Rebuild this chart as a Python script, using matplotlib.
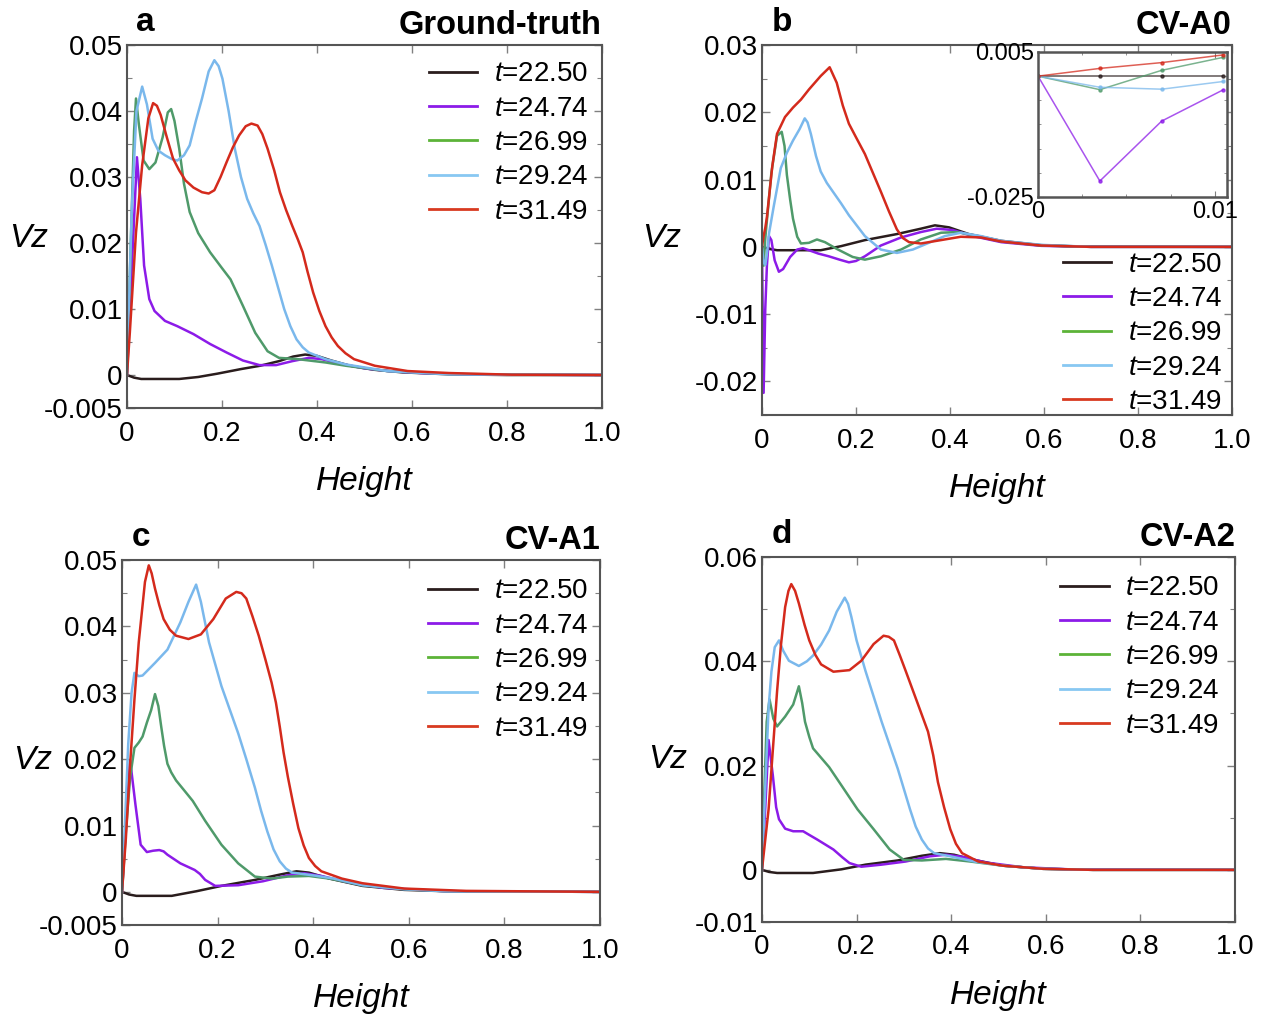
import numpy as np
import matplotlib
matplotlib.use('Agg')
import matplotlib.pyplot as plt
from matplotlib.lines import Line2D
from matplotlib.ticker import MultipleLocator

plt.rcParams['font.family'] = ['Liberation Sans', 'DejaVu Sans']
plt.rcParams['mathtext.fontset'] = 'custom'
plt.rcParams['mathtext.it'] = 'Liberation Sans:italic'
plt.rcParams['mathtext.rm'] = 'Liberation Sans'

times = ['22.50', '24.74', '26.99', '29.24', '31.49']
line_colors = ['#2a1d1d', '#8c1be8', '#4f9a6a', '#7ab8ec', '#d42a1c']
legend_colors = ['#2a1d1d', '#8c1be8', '#5cb338', '#88c8f2', '#d83a20']
x_ticks = [0, 0.2, 0.4, 0.6, 0.8, 1.0]
x_ticklabels = ['0', '0.2', '0.4', '0.6', '0.8', '1.0']

# ---- a: Ground-truth
a_black = [(0, 0), (0.015, -0.0004), (0.03, -0.0006), (0.07, -0.0006), (0.11, -0.0006), (0.15, -0.0003),
           (0.19, 0.0002), (0.24, 0.0009), (0.28, 0.0014), (0.32, 0.0021), (0.35, 0.0028), (0.375, 0.0031),
           (0.40, 0.0029), (0.43, 0.0022), (0.47, 0.0014), (0.52, 0.0008), (0.58, 0.0004), (0.68, 0.0001),
           (0.8, 0.0), (1.0, 0.0)]
a_purple = [(0, 0), (0.01, 0.016), (0.021, 0.033), (0.028, 0.0267), (0.036, 0.0166), (0.047, 0.0115),
            (0.058, 0.0097), (0.08, 0.0082), (0.106, 0.0074), (0.14, 0.0062), (0.175, 0.0047), (0.21, 0.0034),
            (0.244, 0.0022), (0.279, 0.0015), (0.314, 0.0015), (0.348, 0.0021), (0.383, 0.0026), (0.41, 0.0024),
            (0.45, 0.0017), (0.5, 0.0010), (0.55, 0.0006), (0.62, 0.0003), (0.72, 0.0001), (1.0, 0.0)]
a_green = [(0, 0), (0.008, 0.02), (0.015, 0.037), (0.019, 0.0419), (0.025, 0.038), (0.035, 0.0325),
           (0.047, 0.0312), (0.06, 0.0322), (0.075, 0.036), (0.086, 0.0398), (0.093, 0.0403), (0.1, 0.0385),
           (0.11, 0.0343), (0.12, 0.029), (0.132, 0.0247), (0.15, 0.0215), (0.175, 0.0186), (0.2, 0.0162),
           (0.218, 0.0145), (0.244, 0.0105), (0.27, 0.0064), (0.296, 0.0036), (0.32, 0.0026), (0.36, 0.0024),
           (0.418, 0.0019), (0.461, 0.0014), (0.548, 0.0006), (0.68, 0.00015), (1.0, 0.0)]
a_blue = [(0, 0), (0.01, 0.025), (0.02, 0.04), (0.032, 0.0437), (0.042, 0.041), (0.054, 0.0358),
          (0.066, 0.034), (0.08, 0.0333), (0.095, 0.0327), (0.106, 0.0325), (0.12, 0.0333), (0.132, 0.0348),
          (0.145, 0.0385), (0.158, 0.0419), (0.172, 0.046), (0.184, 0.0477), (0.193, 0.0468), (0.201, 0.0449),
          (0.214, 0.04), (0.227, 0.0343), (0.24, 0.0300), (0.253, 0.0267), (0.266, 0.0245), (0.279, 0.0226),
          (0.292, 0.0197), (0.305, 0.0166), (0.318, 0.0133), (0.331, 0.0100), (0.344, 0.0074),
          (0.357, 0.0054), (0.37, 0.0042), (0.383, 0.0034), (0.418, 0.0024),
          (0.461, 0.0016), (0.548, 0.0006), (0.68, 0.0001), (1.0, 0.0)]
a_red = [(0, 0), (0.006, 0.0064), (0.019, 0.0216), (0.032, 0.0318), (0.045, 0.0389), (0.055, 0.0412),
         (0.063, 0.0408), (0.071, 0.0394), (0.084, 0.036), (0.097, 0.0328), (0.11, 0.031), (0.123, 0.0295),
         (0.14, 0.0284), (0.158, 0.0277), (0.172, 0.0275), (0.184, 0.028), (0.197, 0.030), (0.210, 0.0323),
         (0.223, 0.0345), (0.236, 0.0363), (0.25, 0.0377), (0.262, 0.0381), (0.275, 0.0378), (0.285, 0.0365),
         (0.296, 0.0343), (0.31, 0.031), (0.322, 0.0277), (0.335, 0.0250), (0.348, 0.0226), (0.36, 0.0205),
         (0.370, 0.0186), (0.38, 0.0157), (0.392, 0.0125), (0.405, 0.0097), (0.418, 0.0074), (0.431, 0.0057),
         (0.444, 0.0044), (0.46, 0.0033), (0.478, 0.0024), (0.522, 0.0014), (0.591, 0.0006), (0.678, 0.0003),
         (0.81, 0.00005), (1.0, 0.0)]

# ---- b: CV-A0 (first four points are the ones shown in the inset)
inset_x = [0, 0.0035, 0.007, 0.0105]
inset_black = [0, 0, 0, 0]
inset_purple = [0, -0.0217, -0.0093, -0.0028]
inset_green = [0, -0.0028, 0.0012, 0.0039]
inset_blue = [0, -0.0023, -0.0027, -0.0011]
inset_red = [0, 0.0016, 0.0028, 0.0044]

b_black = [(0, 0), (0.015, -0.0003), (0.032, -0.0005), (0.08, -0.0005), (0.125, -0.0005), (0.168, 0.0001),
           (0.219, 0.001), (0.287, 0.0019), (0.338, 0.0027), (0.368, 0.0032), (0.398, 0.0029), (0.44, 0.0019),
           (0.509, 0.0009), (0.594, 0.00025), (0.679, 0.00005), (1.0, 0.0)]
b_purple = [(0, 0), (0.0035, -0.0217), (0.007, -0.0093), (0.0105, -0.0028), (0.015, 0.0016), (0.02, 0.001),
            (0.027, -0.002), (0.036, -0.0037), (0.045, -0.0033), (0.06, -0.0015), (0.075, -0.0004),
            (0.087, -0.0002), (0.1, -0.0005), (0.12, -0.001), (0.142, -0.0014), (0.165, -0.0019),
            (0.185, -0.0023), (0.2, -0.0021), (0.219, -0.0014), (0.253, 0.0002), (0.296, 0.0014),
            (0.338, 0.0022), (0.372, 0.0027), (0.406, 0.0025), (0.449, 0.0016), (0.509, 0.0007),
            (0.594, 0.00015), (0.7, 0.0), (1.0, 0.0)]
b_green = [(0, 0), (0.0035, -0.0028), (0.007, 0.0012), (0.0105, 0.0039), (0.02, 0.011), (0.032, 0.0165),
           (0.042, 0.0171), (0.048, 0.015), (0.053, 0.0107), (0.06, 0.007), (0.066, 0.0042), (0.075, 0.0015),
           (0.083, 0.0005), (0.1, 0.0006), (0.117, 0.0011), (0.134, 0.0007), (0.159, -0.0003), (0.193, -0.0015),
           (0.219, -0.0019), (0.253, -0.0014), (0.296, -0.0004), (0.338, 0.0011), (0.381, 0.0021),
           (0.415, 0.0022), (0.457, 0.0016), (0.509, 0.0008), (0.594, 0.0002), (0.7, 0.0), (1.0, 0.0)]
b_blue = [(0, 0), (0.0035, -0.0023), (0.007, -0.0027), (0.0105, -0.0011), (0.015, 0.002), (0.025, 0.006),
          (0.04, 0.0117), (0.053, 0.014), (0.066, 0.0158), (0.08, 0.0175), (0.091, 0.0191), (0.097, 0.0185),
          (0.104, 0.0168), (0.115, 0.0135), (0.125, 0.0112), (0.138, 0.0095), (0.151, 0.0082), (0.168, 0.0065),
          (0.185, 0.0047), (0.219, 0.0016), (0.253, -0.0004), (0.287, -0.0009), (0.321, -0.0004),
          (0.355, 0.0006), (0.389, 0.0016), (0.423, 0.0021), (0.466, 0.0016), (0.509, 0.0009),
          (0.594, 0.0003), (0.7, 0.0), (1.0, 0.0)]
b_red = [(0, 0), (0.0035, 0.0016), (0.007, 0.0028), (0.0105, 0.0044), (0.014, 0.0067), (0.022, 0.012),
         (0.032, 0.0168), (0.049, 0.0193), (0.066, 0.0207), (0.083, 0.0219), (0.1, 0.0234), (0.125, 0.0254),
         (0.144, 0.0267), (0.159, 0.0244), (0.172, 0.021), (0.185, 0.0183), (0.2, 0.0163), (0.219, 0.0138),
         (0.236, 0.011), (0.253, 0.0082), (0.27, 0.0053), (0.287, 0.0026), (0.3, 0.0013), (0.313, 0.0007),
         (0.338, 0.0005), (0.372, 0.0009), (0.423, 0.0015), (0.466, 0.0014), (0.509, 0.0008),
         (0.594, 0.0002), (0.7, 0.0), (1.0, 0.0)]

# ---- c: CV-A1
c_black = [(0, 0), (0.015, -0.0004), (0.03, -0.0006), (0.104, -0.0006), (0.156, 0.0001), (0.208, 0.0009),
           (0.278, 0.0018), (0.33, 0.0026), (0.365, 0.0031), (0.391, 0.0029), (0.434, 0.002), (0.503, 0.0009),
           (0.59, 0.0003), (0.677, 0.0001), (1.0, 0.0)]
c_purple = [(0, 0), (0.008, 0.01), (0.017, 0.0198), (0.028, 0.0132), (0.039, 0.0071), (0.052, 0.006),
            (0.065, 0.0062), (0.078, 0.0063), (0.087, 0.0061), (0.095, 0.0056), (0.122, 0.0043),
            (0.152, 0.0033), (0.163, 0.0027), (0.174, 0.0018), (0.195, 0.0009), (0.243, 0.001),
            (0.295, 0.0016), (0.347, 0.0025), (0.382, 0.0028), (0.417, 0.0024), (0.469, 0.0015),
            (0.547, 0.0006), (0.677, 0.0001), (1.0, 0.0)]
c_green = [(0, 0), (0.008, 0.009), (0.017, 0.0173), (0.026, 0.0217), (0.035, 0.0225), (0.043, 0.0234),
           (0.052, 0.0255), (0.061, 0.0274), (0.069, 0.0298), (0.076, 0.028), (0.082, 0.0249), (0.088, 0.022),
           (0.095, 0.0193), (0.103, 0.018), (0.113, 0.0168), (0.13, 0.0153), (0.148, 0.0137), (0.174, 0.0107),
           (0.208, 0.0071), (0.243, 0.0043), (0.278, 0.0023), (0.313, 0.002), (0.347, 0.0023), (0.391, 0.0024),
           (0.434, 0.002), (0.503, 0.001), (0.59, 0.0004), (0.677, 0.0001), (1.0, 0.0)]
c_blue = [(0, 0), (0.006, 0.01), (0.013, 0.0223), (0.02, 0.03), (0.026, 0.033), (0.035, 0.0325),
          (0.043, 0.0326), (0.069, 0.0345), (0.095, 0.0365), (0.122, 0.0406), (0.139, 0.0437), (0.155, 0.0463),
          (0.165, 0.0437), (0.182, 0.0376), (0.208, 0.031), (0.243, 0.0239), (0.26, 0.0200), (0.278, 0.0157),
          (0.291, 0.0122), (0.304, 0.0091), (0.317, 0.0064), (0.33, 0.0046), (0.343, 0.0035),
          (0.356, 0.0029), (0.399, 0.0025), (0.443, 0.002), (0.503, 0.001), (0.59, 0.0004),
          (0.677, 0.0001), (1.0, 0.0)]
c_red = [(0, 0), (0.008, 0.008), (0.017, 0.0193), (0.026, 0.029), (0.035, 0.0376), (0.048, 0.0467),
         (0.056, 0.0492), (0.062, 0.048), (0.069, 0.0457), (0.078, 0.0432), (0.087, 0.0411), (0.1, 0.0395),
         (0.113, 0.0386), (0.139, 0.0381), (0.165, 0.0388), (0.191, 0.0411), (0.217, 0.0442), (0.239, 0.0452),
         (0.25, 0.045), (0.26, 0.0442), (0.273, 0.0415), (0.286, 0.0386), (0.3, 0.035), (0.313, 0.0315),
         (0.322, 0.0285), (0.33, 0.0249), (0.338, 0.0210), (0.347, 0.0173), (0.358, 0.0133), (0.369, 0.0096),
         (0.38, 0.007), (0.391, 0.0051), (0.404, 0.0039), (0.417, 0.0031), (0.46, 0.002), (0.503, 0.0013),
         (0.59, 0.0005), (0.72, 0.00015), (1.0, 0.0)]

# ---- d: CV-A2
d_black = [(0, 0), (0.015, -0.0004), (0.032, -0.0006), (0.108, -0.0006), (0.168, 0.0001), (0.219, 0.001),
           (0.287, 0.0018), (0.338, 0.0027), (0.376, 0.0032), (0.406, 0.0029), (0.449, 0.0019), (0.509, 0.0008),
           (0.594, 0.0002), (0.7, 0.0), (1.0, 0.0)]
d_purple = [(0, 0), (0.007, 0.012), (0.014, 0.0249), (0.023, 0.0181), (0.03, 0.012), (0.036, 0.0097),
            (0.049, 0.0079), (0.066, 0.0074), (0.087, 0.0074), (0.1, 0.0067), (0.117, 0.0058), (0.151, 0.0039),
            (0.17, 0.0024), (0.185, 0.0013), (0.21, 0.0006), (0.253, 0.001), (0.304, 0.0016), (0.355, 0.0026),
            (0.389, 0.0029), (0.423, 0.0025), (0.474, 0.0014), (0.551, 0.0005), (0.65, 0.0001), (1.0, 0.0)]
d_green = [(0, 0), (0.005, 0.015), (0.01, 0.0284), (0.016, 0.0327), (0.024, 0.029), (0.032, 0.0275),
           (0.049, 0.0294), (0.066, 0.0317), (0.078, 0.0352), (0.085, 0.032), (0.091, 0.0284), (0.1, 0.0255),
           (0.108, 0.0233), (0.125, 0.0215), (0.142, 0.0197), (0.168, 0.0162), (0.202, 0.0116), (0.236, 0.0078),
           (0.27, 0.0039), (0.3, 0.0019), (0.338, 0.0018), (0.389, 0.0021), (0.44, 0.0016), (0.509, 0.0008),
           (0.594, 0.0002), (0.7, 0.0), (1.0, 0.0)]
d_blue = [(0, 0), (0.007, 0.016), (0.014, 0.031), (0.02, 0.038), (0.027, 0.0427), (0.036, 0.044),
          (0.045, 0.042), (0.057, 0.0401), (0.078, 0.0391), (0.095, 0.04), (0.108, 0.0411), (0.125, 0.0432),
          (0.142, 0.0459), (0.158, 0.0495), (0.175, 0.0522), (0.182, 0.051), (0.189, 0.0485), (0.2, 0.044),
          (0.219, 0.0381), (0.253, 0.0284), (0.287, 0.0194), (0.3, 0.0155), (0.313, 0.0116), (0.325, 0.0083),
          (0.338, 0.0058), (0.351, 0.0041), (0.364, 0.0032), (0.398, 0.0026), (0.449, 0.0016), (0.509, 0.0008),
          (0.594, 0.0002), (0.7, 0.0), (1.0, 0.0)]
d_red = [(0, 0), (0.014, 0.0116), (0.023, 0.023), (0.032, 0.0343), (0.04, 0.043), (0.049, 0.0504),
         (0.056, 0.0535), (0.062, 0.0548), (0.07, 0.0535), (0.078, 0.0511), (0.09, 0.047), (0.1, 0.044),
         (0.113, 0.0412), (0.125, 0.0394), (0.151, 0.038), (0.185, 0.0383), (0.21, 0.0401), (0.236, 0.0433),
         (0.257, 0.0449), (0.268, 0.0447), (0.279, 0.044), (0.292, 0.041), (0.304, 0.0381), (0.33, 0.0317),
         (0.351, 0.0265), (0.362, 0.022), (0.372, 0.0168), (0.385, 0.012), (0.398, 0.0078), (0.41, 0.005),
         (0.423, 0.0032), (0.457, 0.0016), (0.509, 0.0008), (0.594, 0.0002), (0.7, 0.0), (1.0, 0.0)]


def style(ax, ylim, yticks, ylabels, yminor):
    ax.set_xlim(0, 1.0)
    ax.set_ylim(*ylim)
    ax.set_xticks(x_ticks)
    ax.set_xticklabels(x_ticklabels)
    ax.set_yticks(yticks)
    ax.set_yticklabels(ylabels)
    ax.yaxis.set_minor_locator(MultipleLocator(yminor))
    ax.tick_params(which='both', direction='in', top=True, right=True, color='#808080')
    ax.tick_params(which='major', length=6, width=1.0, labelsize=20)
    ax.tick_params(axis='x', which='major', pad=9)
    ax.tick_params(axis='y', which='major', pad=3)
    ax.tick_params(which='minor', length=3.5, width=0.8)
    for s in ax.spines.values():
        s.set_color('#555555')
        s.set_linewidth(1.5)


def panel(ax, curves, letter, title, legend_loc, legend_anchor, vz_pos):
    for pts, c in zip(curves, line_colors):
        xs, ys = zip(*pts)
        ax.plot(xs, ys, color=c, lw=1.8, solid_joinstyle='round')
    handles = [Line2D([], [], color=c, lw=2) for c in legend_colors]
    ax.legend(handles, ['$t$=' + t for t in times], loc=legend_loc, bbox_to_anchor=legend_anchor,
              frameon=False, fontsize=20, handlelength=1.75, handletextpad=0.6, labelspacing=0.3,
              borderpad=0, borderaxespad=0)
    ax.text(0.02, 1.02, letter, transform=ax.transAxes, fontsize=24, fontweight='bold', va='bottom')
    ax.text(1.0, 1.01, title, transform=ax.transAxes, fontsize=23.5, fontweight='bold', va='bottom',
            ha='right')
    ax.text(vz_pos[0], vz_pos[1], 'Vz', transform=ax.transAxes, fontsize=24, fontstyle='italic',
            ha='center', va='center')
    ax.set_xlabel('Height', fontsize=24, fontstyle='italic', labelpad=14)


fig = plt.figure(figsize=(12.71, 10.19), dpi=100)
ax_a = fig.add_axes([0.0999, 0.5996, 0.3737, 0.3562])
ax_b = fig.add_axes([0.5995, 0.5927, 0.3698, 0.3631])
ax_c = fig.add_axes([0.0960, 0.0922, 0.3761, 0.3582])
ax_d = fig.add_axes([0.5995, 0.0952, 0.3722, 0.3582])

style(ax_a, (-0.005, 0.05), [-0.005, 0, 0.01, 0.02, 0.03, 0.04, 0.05],
      ['-0.005', '0', '0.01', '0.02', '0.03', '0.04', '0.05'], 0.005)
style(ax_b, (-0.025, 0.03), [-0.02, -0.01, 0, 0.01, 0.02, 0.03],
      ['-0.02', '-0.01', '0', '0.01', '0.02', '0.03'], 0.005)
style(ax_c, (-0.005, 0.05), [-0.005, 0, 0.01, 0.02, 0.03, 0.04, 0.05],
      ['-0.005', '0', '0.01', '0.02', '0.03', '0.04', '0.05'], 0.005)
style(ax_d, (-0.01, 0.06), [-0.01, 0, 0.02, 0.04, 0.06],
      ['-0.01', '0', '0.02', '0.04', '0.06'], 0.01)

panel(ax_a, [a_black, a_purple, a_green, a_blue, a_red], 'a', 'Ground-truth',
      'upper right', (0.972, 0.955), (-0.208, 0.468))
panel(ax_b, [b_black, b_purple, b_green, b_blue, b_red], 'b', 'CV-A0',
      'lower right', (0.98, 0.0), (-0.213, 0.478))
panel(ax_c, [c_black, c_purple, c_green, c_blue, c_red], 'c', 'CV-A1',
      'upper right', (0.975, 0.95), (-0.188, 0.452))
panel(ax_d, [d_black, d_purple, d_green, d_blue, d_red], 'd', 'CV-A2',
      'upper right', (0.968, 0.95), (-0.2, 0.444))

# inset in b
ins = fig.add_axes([0.8167, 0.8067, 0.1487, 0.1423])
for ys, c in zip([inset_black, inset_purple, inset_green, inset_blue, inset_red], line_colors):
    ins.plot(inset_x, ys, color=c, lw=1.1, alpha=0.75, marker='o', ms=2.2)
ins.set_xlim(0, 0.0107)
ins.set_ylim(-0.025, 0.005)
ins.set_xticks([0, 0.01])
ins.set_xticklabels(['0', '0.01'])
ins.set_yticks([-0.025, 0.005])
ins.set_yticklabels(['-0.025', '0.005'])
ins.yaxis.set_minor_locator(MultipleLocator(0.005))
ins.xaxis.set_minor_locator(MultipleLocator(0.0025))
ins.tick_params(which='both', direction='in', top=True, right=True, color='#808080')
ins.tick_params(which='major', length=4, labelsize=17, pad=3)
ins.tick_params(which='minor', length=2.5)
for s in ins.spines.values():
    s.set_color('#555555')
    s.set_linewidth(1.8)

fig.savefig('out.png', dpi=100)
